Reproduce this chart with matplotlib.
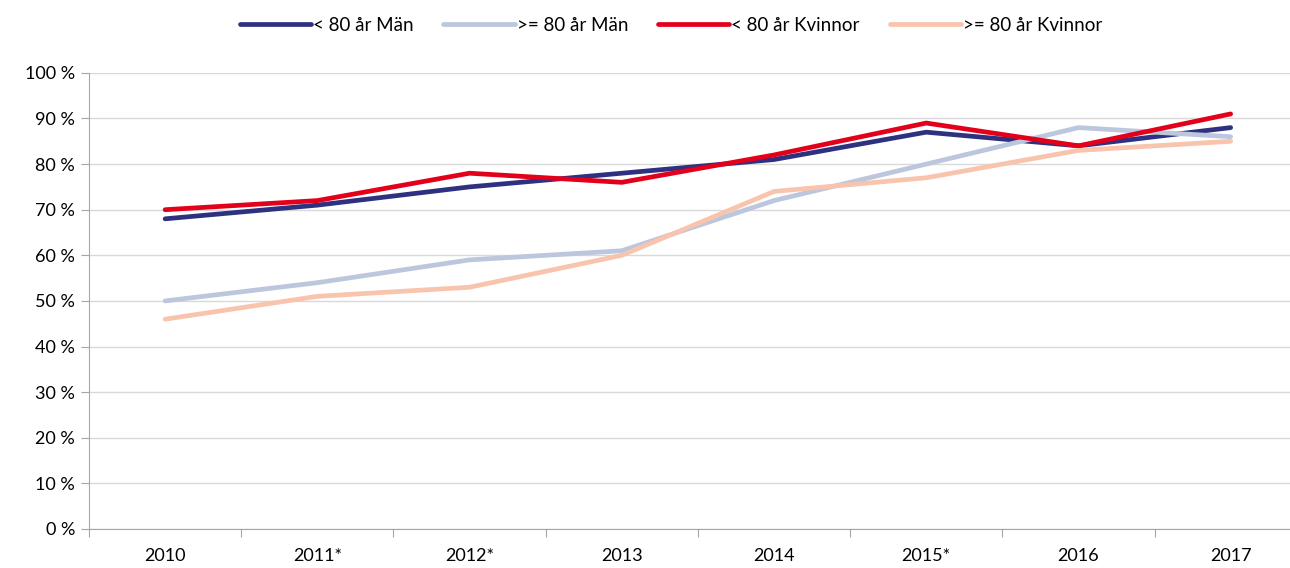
import matplotlib
matplotlib.use("Agg")
from matplotlib import pyplot as plt
from matplotlib.ticker import FuncFormatter

years = ["2010", "2011*", "2012*", "2013", "2014", "2015*", "2016", "2017"]
man_under80 = [68, 71, 75, 78, 81, 87, 84, 88]
man_over80 = [50, 54, 59, 61, 72, 80, 88, 86]
kvinnor_under80 = [70, 72, 78, 76, 82, 89, 84, 91]
kvinnor_over80 = [46, 51, 53, 60, 74, 77, 83, 85]

labels = ["< 80 år Män", ">= 80 år Män", "< 80 år Kvinnor", ">= 80 år Kvinnor"]
colors = ["#2E3180", "#BCC6DC", "#E2001A", "#F8C4AE"]

plt.rcParams['font.family'] = ['Lato', 'DejaVu Sans']

fig = plt.figure(figsize=(12.9, 5.68), dpi=100)
# plot area runs a little past the right edge, as in the original
ax = fig.add_axes([0.069, 0.0687, 0.944, 0.803])

x = list(range(len(years)))
series = [man_under80, man_over80, kvinnor_under80, kvinnor_over80]
for vals, lab, col in zip(series, labels, colors):
	ax.plot(x, vals, color=col, lw=3.4, label=lab, solid_capstyle="round", solid_joinstyle="miter")

ax.set_xlim(-0.5, len(years) - 0.5)
ax.set_ylim(0, 100)
ax.set_yticks(range(0, 101, 10))
ax.yaxis.set_major_formatter(FuncFormatter(lambda v, p: f"{int(v)} %"))
ax.grid(axis="y", color="#D9D9D9", lw=1)
ax.set_axisbelow(True)

# category ticks between labels
ax.set_xticks([i - 0.5 for i in range(len(years) + 1)])
ax.set_xticklabels([])
ax.set_xticks(x, minor=True)
ax.set_xticklabels(years, minor=True)
ax.tick_params(axis="x", which="minor", length=0, pad=14, labelsize=13)
ax.tick_params(axis="x", which="major", length=6, color="#A6A6A6")
ax.tick_params(axis="y", length=6, color="#A6A6A6", labelsize=13, pad=4)

for s in ["top", "right"]:
	ax.spines[s].set_visible(False)
ax.spines["left"].set_color("#A6A6A6")
ax.spines["bottom"].set_color("#A6A6A6")

fig.legend(loc="upper center", bbox_to_anchor=(0.52, 1.0), ncol=4, frameon=False,
		   fontsize=13.5, handlelength=3.8, handletextpad=0.1, columnspacing=1.6)

fig.savefig("out.png", dpi=100)
